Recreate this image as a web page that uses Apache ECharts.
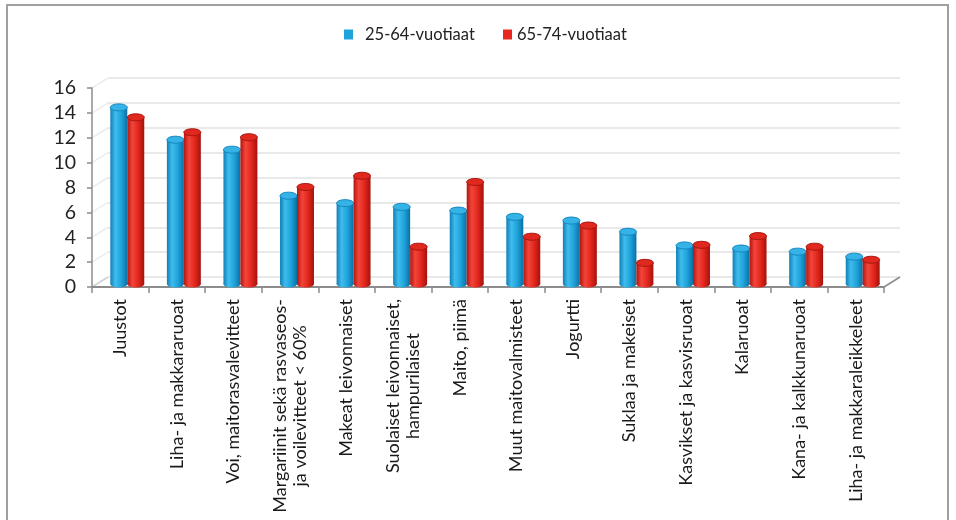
<!DOCTYPE html>
<html>
<head>
<meta charset="utf-8">
<script src="https://cdn.jsdelivr.net/npm/echarts@6/dist/echarts.min.js"></script>
<style>
  html, body { margin: 0; padding: 0; background: #fff; }
  #chart { width: 956px; height: 520px; }
</style>
</head>
<body>
<div id="chart"></div>
<script>
// kategoriat
const categories = [
  'Juustot',
  'Liha- ja makkararuoat',
  'Voi, maitorasvalevitteet',
  'Margariinit sekä rasvaseos-\nja voilevitteet < 60%',
  'Makeat leivonnaiset',
  'Suolaiset leivonnaiset,\nhampurilaiset',
  'Maito, piimä',
  'Muut maitovalmisteet',
  'Jogurtti',
  'Suklaa ja makeiset',
  'Kasvikset ja kasvisruoat',
  'Kalaruoat',
  'Kana- ja kalkkunaruoat',
  'Liha- ja makkaraleikkeleet'
]
const seriesNames = ['25-64-vuotiaat', '65-74-vuotiaat']
const valuesYoung = [14.2, 11.6, 10.8, 7.1, 6.5, 6.2, 5.9, 5.4, 5.1, 4.2, 3.1, 2.85, 2.6, 2.2]
const valuesOld = [13.4, 12.2, 11.8, 7.8, 8.7, 3.0, 8.2, 3.8, 4.7, 1.7, 3.15, 3.85, 3.0, 1.95]
const yTicks = [0, 2, 4, 6, 8, 10, 12, 14, 16]

const FONT = 'Lato'
const AXIS_GRAY = '#8c8c8c'

// etuseinä / takaseinä / pylväät (3D-vaikutelma)
const front = { left: 92, right: 72, top: 88, bottom: 233, outerBoundsMode: 'none' }
const back = { left: 108, right: 56, top: 78, bottom: 243, outerBoundsMode: 'none' }
const mid = { left: 99, right: 65, top: 85, bottom: 236, outerBoundsMode: 'none' }

const chart = echarts.init(document.getElementById('chart'))

const blueGrad = new echarts.graphic.LinearGradient(0, 0, 1, 0, [
  { offset: 0, color: '#0f7fb8' },
  { offset: 0.3, color: '#3fbdec' },
  { offset: 0.65, color: '#1ea2db' },
  { offset: 1, color: '#0b6fa3' }
])
const redGrad = new echarts.graphic.LinearGradient(0, 0, 1, 0, [
  { offset: 0, color: '#b3150e' },
  { offset: 0.3, color: '#f2453b' },
  { offset: 0.65, color: '#e2261c' },
  { offset: 1, color: '#a3120c' }
])

const cylinder = (side, bodyFill, capFill, rimColor) => (params, api) => {
  const top = api.coord([api.value(0), api.value(1)])
  const base = api.coord([api.value(0), 0])
  const band = api.size([1, 0])[0]
  const w = band * 0.3
  const x0 = side < 0 ? top[0] - w : top[0]
  const ry = 3.5
  return {
    type: 'group',
    children: [
      { type: 'ellipse', shape: { cx: x0 + w / 2, cy: base[1], rx: w / 2, ry: ry }, style: { fill: bodyFill } },
      { type: 'rect', shape: { x: x0, y: top[1], width: w, height: base[1] - top[1] }, style: { fill: bodyFill } },
      { type: 'ellipse', shape: { cx: x0 + w / 2, cy: top[1], rx: w / 2, ry: ry }, style: { fill: capFill, stroke: rimColor, lineWidth: 1 } }
    ]
  }
}

const labelRich = { c: { align: 'center', fontFamily: FONT, fontSize: 18, color: '#1a1a1a', lineHeight: 20 } }

const legendBase = {
  top: 26,
  padding: 0,
  itemWidth: 9,
  itemHeight: 10,
  icon: 'rect',
  textStyle: { fontFamily: FONT, fontSize: 16.5, color: '#222' }
}

const option = {
  animation: false,
  backgroundColor: '#fff',
  textStyle: { fontFamily: FONT },
  legend: [
    Object.assign({}, legendBase, {
      left: 344,
      data: [seriesNames[0]],
      textStyle: Object.assign({}, legendBase.textStyle, { padding: [0, 0, 0, 7] })
    }),
    Object.assign({}, legendBase, { left: 503, data: [seriesNames[1]] })
  ],
  grid: [
    Object.assign({}, front),
    Object.assign({}, back),
    Object.assign({}, mid)
  ],
  xAxis: [
    {
      type: 'category',
      gridIndex: 0,
      data: categories,
      axisLine: { lineStyle: { color: AXIS_GRAY, width: 2 } },
      axisTick: { show: true, length: 6, lineStyle: { color: AXIS_GRAY, width: 1.5 } },
      axisLabel: {
        interval: 0,
        rotate: 90,
        margin: 12,
        formatter: v => v.split('\n').map(s => '{c|' + s + '}').join('\n'),
        rich: labelRich
      }
    },
    { type: 'category', gridIndex: 1, data: categories, show: false },
    { type: 'category', gridIndex: 2, data: categories, show: false }
  ],
  yAxis: [
    {
      type: 'value',
      gridIndex: 0,
      min: yTicks[0],
      max: yTicks[yTicks.length - 1],
      interval: 2,
      axisLine: { show: true, lineStyle: { color: AXIS_GRAY, width: 1.5 } },
      axisTick: { show: true, length: 5, lineStyle: { color: AXIS_GRAY, width: 1.5 } },
      axisLabel: { margin: 16, fontFamily: FONT, fontSize: 19.5, color: '#222' },
      splitLine: { show: false }
    },
    {
      type: 'value',
      gridIndex: 1,
      min: yTicks[0],
      max: yTicks[yTicks.length - 1],
      interval: 2,
      axisLine: { show: false },
      axisTick: { show: false },
      axisLabel: { show: false },
      splitLine: { show: true, lineStyle: { color: '#e9e9e9', width: 2 } }
    },
    {
      type: 'value',
      gridIndex: 2,
      min: yTicks[0],
      max: yTicks[yTicks.length - 1],
      interval: 2,
      show: false
    }
  ],
  series: [
    {
      name: seriesNames[0],
      type: 'custom',
      xAxisIndex: 2,
      yAxisIndex: 2,
      itemStyle: { color: '#1fa3dc' },
      renderItem: cylinder(-1, blueGrad, '#35b3e6', '#1585bd'),
      encode: { x: 0, y: 1 },
      data: valuesYoung.map((v, i) => [i, v])
    },
    {
      name: seriesNames[1],
      type: 'custom',
      xAxisIndex: 2,
      yAxisIndex: 2,
      itemStyle: { color: '#e8281e' },
      renderItem: cylinder(1, redGrad, '#e0281f', '#a8160f'),
      encode: { x: 0, y: 1 },
      data: valuesOld.map((v, i) => [i, v])
    }
  ]
}

chart.setOption(option)

// kehys ja 3D-lattian vinoviivat
const W = 956, H = 520
const fx0 = front.left, fx1 = W - front.right, fyBottom = H - front.bottom
const bx0 = back.left, bx1 = W - back.right, byBottom = H - back.bottom
const diag = yTicks.map(t => {
  const f = chart.convertToPixel({ yAxisIndex: 0 }, t)
  const b = chart.convertToPixel({ yAxisIndex: 1 }, t)
  return {
    type: 'line',
    shape: { x1: fx0, y1: f, x2: bx0, y2: b },
    style: { stroke: t === 0 ? '#d0d0d0' : '#ededed', lineWidth: 1.5 },
    z: 0
  }
})
chart.setOption({
  graphic: [
    {
      type: 'rect',
      shape: { x: 7, y: 5, width: 941, height: 530 },
      style: { fill: 'none', stroke: '#a0a0a0', lineWidth: 2 },
      z: 0
    },
    ...diag,
    {
      type: 'line',
      shape: { x1: fx1, y1: fyBottom, x2: bx1, y2: byBottom },
      style: { stroke: AXIS_GRAY, lineWidth: 1.5 },
      z: 0
    }
  ]
})
</script>
</body>
</html>
